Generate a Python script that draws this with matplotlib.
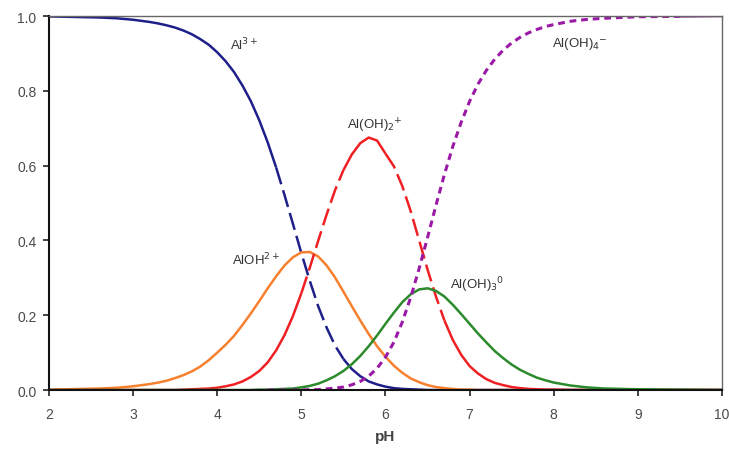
import numpy as np
import matplotlib.pyplot as plt

plt.rcParams['font.family'] = ['Liberation Sans', 'DejaVu Sans']

# pH points
ph = [2.0, 2.2, 2.4, 2.6, 2.8, 3.0, 3.1, 3.2, 3.3, 3.4, 3.5, 3.6, 3.7, 3.8, 3.9,
      4.0, 4.1, 4.2, 4.3, 4.4, 4.5, 4.6, 4.7, 4.8, 4.9, 5.0, 5.1, 5.2, 5.3,
      5.4, 5.5, 5.6, 5.7, 5.8, 5.9, 6.0, 6.1, 6.2, 6.3, 6.4, 6.5, 6.6, 6.7,
      6.8, 6.9, 7.0, 7.1, 7.2, 7.3, 7.4, 7.5, 7.6, 7.7, 7.8, 7.9, 8.0, 8.2,
      8.4, 8.6, 8.8, 9.0, 9.5, 10.0]

al3 = [0.999, 0.998, 0.997, 0.996, 0.994, 0.990, 0.987, 0.984, 0.980, 0.975,
       0.969, 0.961, 0.951, 0.938, 0.923, 0.903, 0.879, 0.850, 0.814, 0.772,
       0.721, 0.662, 0.595, 0.521, 0.444, 0.366, 0.292, 0.224, 0.167, 0.119,
       0.083, 0.056, 0.037, 0.023, 0.015, 0.009, 0.005, 0.003, 0.002, 0.001,
       0.0, 0.0, 0.0, 0.0, 0.0, 0.0, 0.0, 0.0, 0.0, 0.0, 0.0, 0.0, 0.0, 0.0,
       0.0, 0.0, 0.0, 0.0, 0.0, 0.0, 0.0, 0.0, 0.0]

aloh = [0.001, 0.002, 0.003, 0.004, 0.006, 0.010, 0.013, 0.016, 0.020, 0.025,
        0.032, 0.040, 0.050, 0.063, 0.080, 0.100, 0.121, 0.145, 0.174, 0.205,
        0.238, 0.272, 0.304, 0.333, 0.355, 0.368, 0.369, 0.357, 0.333, 0.301,
        0.263, 0.224, 0.186, 0.150, 0.117, 0.089, 0.065, 0.046, 0.031, 0.021,
        0.013, 0.008, 0.005, 0.003, 0.001, 0.001, 0.0, 0.0, 0.0, 0.0, 0.0,
        0.0, 0.0, 0.0, 0.0, 0.0, 0.0, 0.0, 0.0, 0.0, 0.0, 0.0, 0.0]

aloh2 = [0.0, 0.0, 0.0, 0.0, 0.0, 0.0, 0.0, 0.0, 0.0, 0.0,
         0.0, 0.001, 0.002, 0.003, 0.004, 0.006, 0.010, 0.015, 0.023, 0.035,
         0.051, 0.074, 0.106, 0.147, 0.198, 0.259, 0.327, 0.399, 0.469, 0.534,
         0.588, 0.630, 0.660, 0.675, 0.667, 0.632, 0.598, 0.545, 0.478, 0.400,
         0.322, 0.250, 0.186, 0.134, 0.094, 0.064, 0.044, 0.029, 0.019, 0.013,
         0.008, 0.005, 0.003, 0.002, 0.001, 0.001, 0.0, 0.0, 0.0, 0.0, 0.0,
         0.0, 0.0]

aloh3 = [0.0, 0.0, 0.0, 0.0, 0.0, 0.0, 0.0, 0.0, 0.0, 0.0,
         0.0, 0.0, 0.0, 0.0, 0.0, 0.0, 0.0, 0.0, 0.0, 0.0,
         0.001, 0.001, 0.002, 0.003, 0.004, 0.007, 0.011, 0.017, 0.026, 0.037,
         0.051, 0.069, 0.091, 0.117, 0.146, 0.177, 0.207, 0.235, 0.256, 0.269,
         0.272, 0.265, 0.250, 0.228, 0.203, 0.177, 0.151, 0.127, 0.104, 0.085,
         0.068, 0.054, 0.043, 0.033, 0.026, 0.020, 0.012, 0.007, 0.004, 0.003,
         0.002, 0.001, 0.0]

aloh4 = [0.0, 0.0, 0.0, 0.0, 0.0, 0.0, 0.0, 0.0, 0.0, 0.0,
         0.0, 0.0, 0.0, 0.0, 0.0, 0.0, 0.0, 0.0, 0.0, 0.0,
         0.0, 0.0, 0.0, 0.0, 0.0, 0.0, 0.001, 0.001, 0.003, 0.005,
         0.008, 0.014, 0.023, 0.037, 0.058, 0.088, 0.128, 0.182, 0.248, 0.325,
         0.408, 0.494, 0.576, 0.651, 0.716, 0.772, 0.818, 0.855, 0.885, 0.909,
         0.928, 0.943, 0.955, 0.964, 0.972, 0.977, 0.986, 0.991, 0.994, 0.996,
         0.998, 0.999, 1.0]

x = np.array(ph)


def tramo(ax, y, a, b, color, ls, lw=1.8):
    m = (x >= a - 1e-9) & (x <= b + 1e-9)
    ax.plot(x[m], np.array(y)[m], color=color, linestyle=ls, linewidth=lw,
            solid_capstyle='butt', dash_capstyle='butt')


fig, ax = plt.subplots(figsize=(7.29, 4.56), dpi=100)
fig.subplots_adjust(left=0.0672, right=0.9904, bottom=0.1425, top=0.9627)

largo = (0, (7, 2.5))
corto = (0, (2.2, 1.6))

azul = '#1f1f8a'
naranja = '#f7802f'
rojo = '#ee2024'
verde = '#2b8a2b'
morado = '#9a1aa6'

tramo(ax, al3, 2.0, 4.7, azul, '-')
tramo(ax, al3, 4.7, 5.5, azul, largo)
tramo(ax, al3, 5.5, 10.0, azul, '-')

tramo(ax, aloh, 2.0, 10.0, naranja, '-')

tramo(ax, aloh2, 2.0, 5.0, rojo, '-')
tramo(ax, aloh2, 5.0, 5.5, rojo, largo)
tramo(ax, aloh2, 5.5, 6.0, rojo, '-')
tramo(ax, aloh2, 6.0, 6.7, rojo, largo)
tramo(ax, aloh2, 6.7, 10.0, rojo, '-')

tramo(ax, aloh3, 2.0, 10.0, verde, '-')

tramo(ax, aloh4, 2.0, 4.6, morado, '-')
tramo(ax, aloh4, 4.6, 9.5, morado, corto, lw=2.2)
tramo(ax, aloh4, 9.5, 10.0, morado, '-')

ax.set_xlim(2, 10)
ax.set_ylim(0, 1.0)
ax.set_xticks(range(2, 11))
ax.set_yticks([0.0, 0.2, 0.4, 0.6, 0.8, 1.0])
ax.set_yticklabels(['0.0', '0.2', '0.4', '0.6', '0.8', '1.0'])
ax.tick_params(direction='out', length=4, width=1.2, labelsize=10,
               labelcolor='#4a4a4a', color='#222222', pad=5)
ax.tick_params(axis='x', pad=8)
for lado in ['top', 'right']:
    ax.spines[lado].set_color('#666666')
    ax.spines[lado].set_linewidth(1.0)
for lado in ['left', 'bottom']:
    ax.spines[lado].set_color('#111111')
    ax.spines[lado].set_linewidth(1.5)

ax.set_xlabel('pH', fontsize=11, fontweight='bold', color='#444444', labelpad=6)

txt = dict(fontsize=9.5, color='#333333', va='center', ha='left')
ax.text(4.15, 0.925, r'Al$^{3+}$', **txt)
ax.text(4.18, 0.35, r'AlOH$^{2+}$', **txt)
ax.text(5.54, 0.71, r'Al(OH)$_2$$^{+}$', **txt)
ax.text(6.77, 0.283, r'Al(OH)$_3$$^{0}$', **txt)
ax.text(7.98, 0.928, r'Al(OH)$_4$$^{-}$', **txt)

plt.savefig('out.png', dpi=100)
